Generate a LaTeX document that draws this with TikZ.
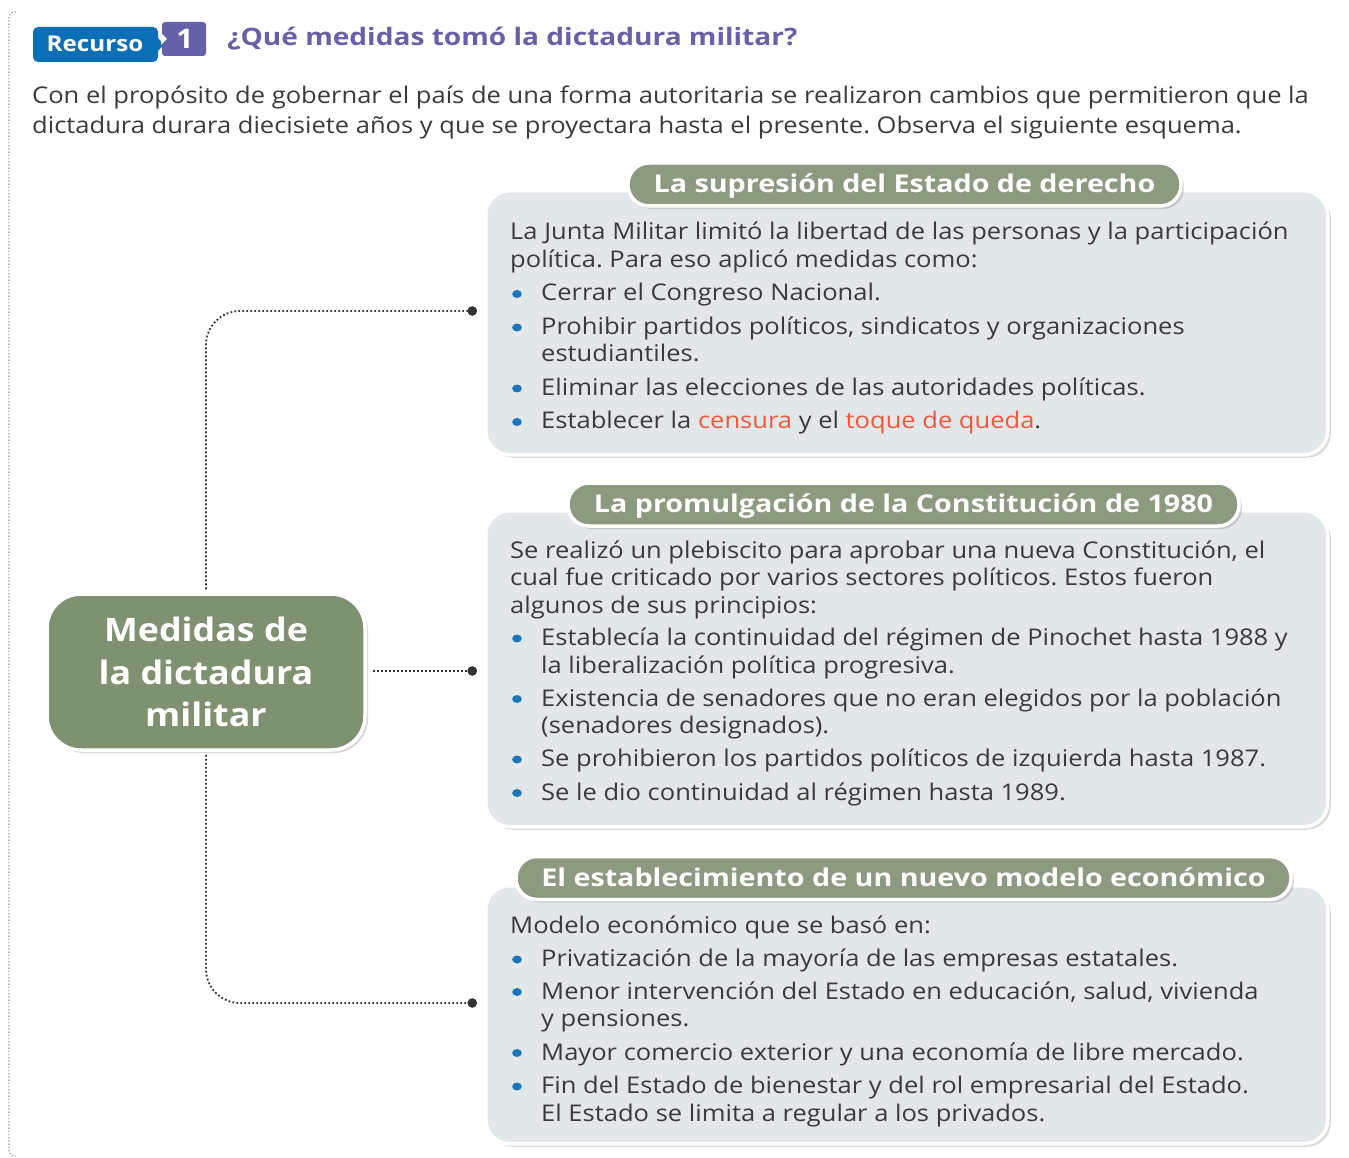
\documentclass[tikz,border=0pt]{standalone}
\usepackage{fontspec}
\setmainfont{Open Sans}[FakeStretch=1.11]
\newfontfamily\widefont{Open Sans}[FakeStretch=1.17]
\usetikzlibrary{shadows,arrows.meta}
\definecolor{txtgray}{HTML}{3A3A3A}
\definecolor{boxfill}{HTML}{E2E8EA}
\definecolor{pillgreen}{HTML}{8C9B80}
\definecolor{maingreen}{HTML}{7E9170}
\definecolor{bulblue}{HTML}{1B75BB}
\definecolor{tagblue}{HTML}{0B6FB6}
\definecolor{tagpurple}{HTML}{6461A8}
\definecolor{titlepurple}{HTML}{6A60A8}
\definecolor{hl}{HTML}{F0583A}
\definecolor{borderdot}{HTML}{8E8ED6}
\definecolor{conngray}{HTML}{333333}
\newcommand{\bul}{\makebox[31pt][l]{\hspace*{2pt}\tikz[x=1pt,y=1pt,baseline=0pt]\fill[bulblue](5,7)ellipse[x radius=4.8, y radius=4];}}
\newcommand{\cont}{\hspace*{31pt}}
\frenchspacing
\begin{document}
\begin{tikzpicture}[x=1pt,y=-1pt,
  infobox/.style={draw=white, line width=3.5pt, fill=boxfill, rounded corners=24pt,
    drop shadow={shadow xshift=3pt, shadow yshift=-3pt, fill=black, opacity=0.15},
    anchor=north west, inner sep=0pt},
  pill/.style={draw=white, line width=3.5pt, fill=pillgreen, rounded corners=21pt,
    drop shadow={shadow xshift=3pt, shadow yshift=-3pt, fill=black, opacity=0.15},
    minimum height=43pt, inner sep=0pt, text=white, text height=17pt, text depth=1pt,
    font=\fontsize{24.5}{30}\selectfont\widefont\bfseries},
  body/.style={anchor=base west, inner sep=0pt, text=txtgray,
    font=\fontsize{23}{27.5}\selectfont},
  conn/.style={draw=conngray, line width=1.8pt, dash pattern=on 1.8pt off 2.2pt,
    rounded corners=34pt, -{Circle[length=9.5pt, sep=0pt]}},
  mainbox/.style={draw=white, line width=3.5pt, fill=maingreen, rounded corners=34pt,
    drop shadow={shadow xshift=3pt, shadow yshift=-3pt, fill=black, opacity=0.15},
    minimum width=318pt, minimum height=156pt, align=center, text=white,
    font=\fontsize{32.3}{42.5}\selectfont\bfseries}
]
\useasboundingbox (0,0) rectangle (1349,1158);
\fill[white] (0,0) rectangle (1349,1158);

% left dotted border
\draw[borderdot, line width=1.2pt, dash pattern=on 1.2pt off 2pt, rounded corners=6pt]
  (16,12) -- (9,12) -- (9,1156) -- (16,1156);

% header
\fill[tagblue, rounded corners=5pt] (33,27) rectangle (158,62);
\fill[tagblue] (157,37) -- (164,44.5) -- (157,52) -- cycle;
\fill[tagpurple, rounded corners=3pt] (162,22) rectangle (206,56);
\fill[white] (161,33) -- (167,39) -- (161,45) -- cycle;
\node[text=white, font=\fontsize{21.8}{24}\selectfont\bfseries, anchor=base] (rec) at (95,52) {Recurso};
\node[text=white, font=\fontsize{27}{30}\selectfont\bfseries, anchor=base] (one) at (185,49) {1};
\node[text=titlepurple, font=\fontsize{24}{30}\selectfont\widefont\bfseries, anchor=base west, inner sep=0pt] (title) at (227,46)
  {¿Qué medidas tomó la dictadura militar?};

% intro
\node[body, font=\fontsize{23}{30}\selectfont] (intro) at (32,104) {\parbox[t]{1310pt}{Con el propósito de gobernar el país de una forma autoritaria se realizaron cambios que permitieron que la\\
dictadura durara diecisiete años y que se proyectara hasta el presente. Observa el siguiente esquema.}};

% boxes
\node[infobox, minimum width=842pt, minimum height=264pt] (b1) at (484,189) {};
\node[infobox, minimum width=842pt, minimum height=316pt] (b2) at (484,509) {};
\node[infobox, minimum width=842pt, minimum height=258pt] (b3) at (484,884) {};

% pills
\node[pill, minimum width=553pt] (p1) at (904.5,184.5) {La supresión del Estado de derecho};
\node[pill, minimum width=671pt] (p2) at (903.5,504.5) {La promulgación de la Constitución de 1980};
\node[pill, minimum width=775pt] (p3) at (903.5,878) {El establecimiento de un nuevo modelo económico};

% body texts
\node[body] (t1) at (510,240) {\parbox[t]{830pt}{La Junta Militar limitó la libertad de las personas y la participación\\
política. Para eso aplicó medidas como:\\[6pt]
\bul Cerrar el Congreso Nacional.\\[6pt]
\bul Prohibir partidos políticos, sindicatos y organizaciones\\
\cont estudiantiles.\\[6pt]
\bul Eliminar las elecciones de las autoridades políticas.\\[6pt]
\bul Establecer la \textcolor{hl}{censura} y el \textcolor{hl}{toque de queda}.}};

\node[body] (t2) at (510,558) {\parbox[t]{830pt}{Se realizó un plebiscito para aprobar una nueva Constitución, el\\
cual fue criticado por varios sectores políticos. Estos fueron\\
algunos de sus principios:\\[5pt]
\bul Establecía la continuidad del régimen de Pinochet hasta 1988 y\\
\cont la liberalización política progresiva.\\[5.5pt]
\bul Existencia de senadores que no eran elegidos por la población\\
\cont (senadores designados).\\[5.5pt]
\bul Se prohibieron los partidos políticos de izquierda hasta 1987.\\[6pt]
\bul Se le dio continuidad al régimen hasta 1989.}};

\node[body] (t3) at (510,933) {\parbox[t]{830pt}{Modelo económico que se basó en:\\[6pt]
\bul Privatización de la mayoría de las empresas estatales.\\[5pt]
\bul Menor intervención del Estado en educación, salud, vivienda\\
\cont y pensiones.\\[6pt]
\bul Mayor comercio exterior y una economía de libre mercado.\\[6pt]
\bul Fin del Estado de bienestar y del rol empresarial del Estado.\\
\cont El Estado se limita a regular a los privados.}};

% main node
\node[mainbox] (main) at (206,672) {Medidas de\\la dictadura\\militar};

% connectors
\coordinate (e1) at (477,311);
\coordinate (e2) at (477,671);
\coordinate (e3) at (477,1003);
\draw[conn] ([yshift=3pt]main.north) |- (e1);
\draw[conn] ([xshift=6pt]main.east |- e2) -- (e2);
\draw[conn] ([yshift=-3pt]main.south) |- (e3);
\end{tikzpicture}
\end{document}
